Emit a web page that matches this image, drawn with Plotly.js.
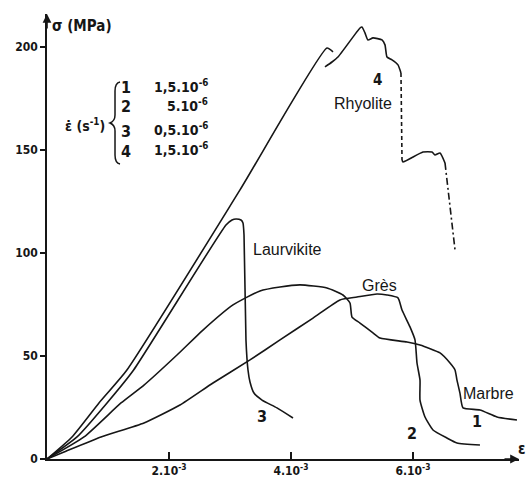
<!DOCTYPE html>
<html>
<head>
<meta charset="utf-8">
<script src="https://cdn.plot.ly/plotly-3.0.1.min.js"></script>
<style>html,body{margin:0;padding:0;background:#fff;}#chart{width:526px;height:479px;}</style>
</head>
<body>
<div id="chart"></div>
<script>
// strain in units of 10^-3, stress in MPa
const rhyoStrainA = [0, 0.410, 0.852, 1.31, 3.164, 4.590, 4.689, null, 4.557, 4.672, 4.770, 5.131, 5.164, 5.213, 5.262, 5.344, 5.492, 5.541, 5.574, 5.656, 5.754, 5.803];
const rhyoStressA = [0, 10.7, 27.2, 43.2, 130.6, 199.5, 197.6, null, 190.3, 192.7, 195.1, 209.2, 209.7, 206.8, 203.4, 204.4, 203.4, 201.0, 195.1, 193.7, 191.3, 187.4];
const rhyoStrainDash = [5.803, 5.820];
const rhyoStressDash = [187.4, 145.1];
const rhyoStrainB = [5.820, 5.836, 6.164, 6.311, 6.361, 6.443, 6.525];
const rhyoStressB = [145.1, 144.2, 149.0, 149.0, 147.6, 148.5, 143.7];
const rhyoStrainDashDot = [6.525, 6.689];
const rhyoStressDashDot = [143.7, 101.5];

const laurStrain = [0, 0.492, 0.984, 1.42, 2.934, 3.033, 3.098, 3.180, 3.213, 3.230, 3.262, 3.295, 3.328, 3.393, 3.525, 3.770, 4.033];
const laurStress = [0, 10.7, 27.2, 43.2, 113.6, 116.0, 116.5, 116.0, 114.6, 108.7, 57.8, 43.2, 37.4, 32.0, 28.6, 24.8, 19.9];

const marbStrain = [0, 0.607, 1.213, 1.590, 2.131, 2.557, 3.049, 3.492, 3.820, 4.148, 4.590, 4.852, 4.967, 5.000, 5.131, 5.344, 5.459, 5.902, 6.115, 6.443, 6.607, 6.689, 6.721, 6.770, 6.820, 7.098, 7.377, 7.705];
const marbStress = [0, 10.7, 27.2, 35.9, 50.5, 62.6, 74.8, 81.6, 83.5, 84.5, 83.0, 79.6, 75.7, 68.9, 66.0, 61.2, 58.7, 56.8, 55.3, 51.5, 46.6, 43.2, 38.3, 32.0, 24.8, 23.8, 20.4, 18.9];

const gresStrain = [0, 0.279, 0.885, 1.590, 2.180, 2.721, 3.328, 3.820, 4.361, 4.803, 5.082, 5.410, 5.574, 5.754, 5.820, 5.951, 6.033, 6.066, 6.115, 6.115, 6.197, 6.328, 6.557, 6.721, 7.098];
const gresStress = [0, 3.4, 10.7, 17.5, 26.2, 36.9, 48.1, 57.8, 68.4, 77.2, 78.6, 80.1, 79.6, 78.2, 72.3, 64.1, 57.8, 46.6, 38.3, 28.6, 20.4, 14.1, 10.2, 7.8, 6.8];

const yTicks = [0, 50, 100, 150, 200];
const xTickVals = [2, 4, 6];
const xTickText = ['2.10<sup>-3</sup>', '4.10<sup>-3</sup>', '6.10<sup>-3</sup>'];

const rateIds = ['1', '2', '3', '4'];
const rateVals = ['1,5.10<sup>-6</sup>', '5.10<sup>-6</sup>', '0,5.10<sup>-6</sup>', '1,5.10<sup>-6</sup>'];
const rateRowY = [180.3, 170.9, 159.0, 149.3];

const ink = '#161616';
const boldFont = 'DejaVu Sans Condensed, DejaVu Sans, sans-serif';
const plainFont = 'Liberation Sans, Arial, sans-serif';

function line(x, y, dash) {
  return {x: x, y: y, type: 'scatter', mode: 'lines', connectgaps: false,
    line: {color: ink, width: 1.6, dash: dash || 'solid', shape: 'spline', smoothing: 0.5},
    hoverinfo: 'skip', showlegend: false};
}

const data = [
  line(rhyoStrainA, rhyoStressA),
  line(rhyoStrainDash, rhyoStressDash, '4px,3px'),
  line(rhyoStrainB, rhyoStressB),
  line(rhyoStrainDashDot, rhyoStressDashDot, '7px,3px,2px,3px'),
  line(laurStrain, laurStress),
  line(marbStrain, marbStress),
  line(gresStrain, gresStress)
];

const annotations = [
  {xref: 'paper', yref: 'paper', x: 1, y: 0, ax: -16, ay: 0, text: '', showarrow: true, arrowhead: 2, arrowsize: 1.1, arrowwidth: 1.6, arrowcolor: ink},
  {xref: 'paper', yref: 'paper', x: 0, y: 1, ax: 0, ay: 16, text: '', showarrow: true, arrowhead: 2, arrowsize: 1.1, arrowwidth: 1.6, arrowcolor: ink},
  {xref: 'paper', yref: 'paper', x: 0, y: 1, xshift: 3, yshift: -12, xanchor: 'left', yanchor: 'middle', text: 'σ (MPa)', showarrow: false, font: {family: boldFont, size: 15, color: ink, weight: 'bold'}},
  {xref: 'paper', yref: 'paper', x: 1, y: 0, xshift: 3, yshift: 10, xanchor: 'center', yanchor: 'middle', text: 'ε', showarrow: false, font: {family: boldFont, size: 15, color: ink, weight: 'bold'}},
  {x: 3.943, y: 101.5, text: 'Laurvikite', showarrow: false, font: {family: plainFont, size: 16, color: ink}},
  {x: 5.459, y: 84.0, text: 'Grès', showarrow: false, font: {family: plainFont, size: 16, color: ink}},
  {x: 7.246, y: 31.6, text: 'Marbre', showarrow: false, font: {family: plainFont, size: 16, color: ink}},
  {x: 5.18, y: 172.8, text: 'Rhyolite', showarrow: false, font: {family: plainFont, size: 16, color: ink}},
  {x: 5.41, y: 184.0, text: '4', showarrow: false, font: {family: boldFont, size: 15, color: ink, weight: 'bold'}},
  {x: 3.525, y: 20.4, text: '3', showarrow: false, font: {family: boldFont, size: 16, color: ink, weight: 'bold'}},
  {x: 5.984, y: 12.6, text: '2', showarrow: false, font: {family: boldFont, size: 16, color: ink, weight: 'bold'}},
  {x: 7.05, y: 18.0, text: '1', showarrow: false, font: {family: boldFont, size: 16, color: ink, weight: 'bold'}},
  {x: 0.62, y: 162.1, text: 'ε̇ (s<sup>-1</sup>)', showarrow: false, font: {family: boldFont, size: 14, color: ink, weight: 'bold'}}
];
rateIds.forEach(function (id, i) {
  annotations.push({x: 1.295, y: rateRowY[i], text: id, showarrow: false, font: {family: boldFont, size: 16, color: ink, weight: 'bold'}});
  annotations.push({x: 2.672, y: rateRowY[i], xanchor: 'right', yshift: 2, text: rateVals[i], showarrow: false, font: {family: boldFont, size: 14, color: ink, weight: 'bold'}});
});

const layout = {
  width: 526, height: 479,
  margin: {l: 47, r: 7, t: 14, b: 20, pad: 0},
  paper_bgcolor: '#fff', plot_bgcolor: '#fff',
  showlegend: false,
  xaxis: {range: [0, 7.738], tickvals: xTickVals, ticktext: xTickText, ticks: 'inside', ticklen: 7, tickwidth: 1.4, tickcolor: ink,
    showline: true, linecolor: ink, linewidth: 1.8, showgrid: false, zeroline: false,
    tickfont: {family: boldFont, size: 12, color: ink, weight: 'bold'}},
  yaxis: {range: [0, 216], tickvals: yTicks, ticks: 'outside', ticklen: 5, tickwidth: 1.4, tickcolor: ink,
    showline: true, linecolor: ink, linewidth: 1.8, showgrid: false, zeroline: false,
    tickfont: {family: boldFont, size: 12, color: ink, weight: 'bold'}},
  shapes: [{
    type: 'path', xref: 'x', yref: 'y', xsizemode: 'pixel', ysizemode: 'pixel',
    xanchor: 1.115, yanchor: 163.1,
    path: 'M 5,-41 Q 0,-40 0,-32 L 0,-8 Q 0,-2 -5,0 Q 0,2 0,8 L 0,32 Q 0,40 5,41',
    line: {color: ink, width: 1.5}
  }],
  annotations: annotations
};

Plotly.newPlot('chart', data, layout, {staticPlot: true, displayModeBar: false});
</script>
</body>
</html>
